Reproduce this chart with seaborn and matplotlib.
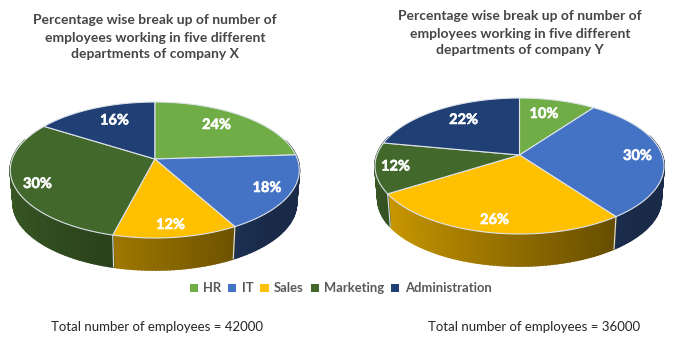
import numpy as np
import matplotlib
matplotlib.use("Agg")
import matplotlib.pyplot as plt
import matplotlib.patheffects as pe
from matplotlib.colors import to_rgb
from matplotlib.patches import Patch
import seaborn as sns

departments = ["HR", "IT", "Sales", "Marketing", "Administration"]
company_x = [24, 18, 12, 30, 16]
company_y = [10, 30, 26, 12, 22]
title_x = "Percentage wise break up of number of\nemployees working in five different\ndepartments of company X"
title_y = "Percentage wise break up of number of\nemployees working in five different\ndepartments of company Y"
total_x = "Total number of employees = 42000"
total_y = "Total number of employees = 36000"
palette = sns.color_palette(["#70AD47", "#4472C4", "#FFC000", "#43682B", "#203F75"])

# pixel positions of the label centres
labels_x = [(216.5, 125), (267, 188), (170.5, 225), (37.5, 184), (114.5, 120.5)]
labels_y = [(544, 114), (637.5, 156), (494.5, 220), (395.5, 166.5), (463.5, 120)]

sns.set_theme(style="white")
plt.rcParams["font.family"] = ["Lato", "DejaVu Sans"]

W, H, DPI = 677, 350, 100
fig = plt.figure(figsize=(W / DPI, H / DPI), dpi=DPI)
ax = fig.add_axes([0, 0, 1, 1])
ax.set_xlim(0, W)
ax.set_ylim(H, 0)
ax.axis("off")

R, A, K, DEPTH, SHRINK = 142.6, 66.2, 0.162, 33.5, 0.98
EDGE = "#DDE3EA"


def project(theta, cx, cy, scale=1.0, dy=0.0):
    u, v = np.sin(theta), -np.cos(theta)
    w = 1 - K * v
    return cx + scale * R * u / w, cy + dy + scale * A * v / w


def shade(color, theta):
    u = np.sin(theta)
    f = np.clip(0.38 + 0.42 * (0.66 - u) / 1.56, 0.38, 0.9)
    return tuple(c * f for c in to_rgb(color))


def draw_pie(values, cx, cy, labels):
    edges = np.cumsum([0] + list(values)) / 100 * 2 * np.pi
    # side wall, painted in narrow strips so that it carries a gradient
    for i, val in enumerate(values):
        t = np.linspace(edges[i], edges[i + 1], max(int(val * 3), 2))
        for a, b in zip(t[:-1], t[1:]):
            if np.cos((a + b) / 2) > 0.3:
                continue
            xt, yt = project(np.array([a, b]), cx, cy)
            xb, yb = project(np.array([b, a]), cx, cy, SHRINK, DEPTH)
            col = shade(palette[i], (a + b) / 2)
            ax.fill(np.r_[xt, xb], np.r_[yt, yb], facecolor=col, edgecolor=col,
                    lw=1.3, zorder=2)
    # slice boundaries on the wall
    for e in edges[:-1]:
        if np.cos(e) < 0.1:
            xt, yt = project(e, cx, cy)
            xb, yb = project(e, cx, cy, SHRINK, DEPTH)
            ax.plot([xt, xb], [yt, yb], color=EDGE, lw=0.8, zorder=3)
    # top face
    for i, val in enumerate(values):
        t = np.linspace(edges[i], edges[i + 1], max(int(val * 4), 2))
        xs, ys = project(t, cx, cy)
        ax.fill(np.r_[cx, xs], np.r_[cy, ys], facecolor=palette[i],
                edgecolor=EDGE, lw=0.8, joinstyle="round", zorder=4)
        ax.text(*labels[i], f"{val}%", color="white", fontsize=10.5, fontweight="bold",
                ha="center", va="center", zorder=5,
                path_effects=[pe.withStroke(linewidth=0.4, foreground="white")])


draw_pie(company_x, 154.8, 159, labels_x)
draw_pie(company_y, 519.5, 155, labels_y)

title_style = dict(color="#454545", fontsize=10, fontweight="bold", ha="center",
                   va="center", linespacing=1.5)
ax.text(155, 37.5, title_x, **title_style)
ax.text(520, 33.5, title_y, **title_style)

foot_style = dict(color="#262626", fontsize=9.5, va="center", ha="left")
ax.text(51, 327, total_x, **foot_style)
ax.text(428, 327, total_y, **foot_style)

handles = [Patch(facecolor=c, edgecolor="none", label=d) for c, d in zip(palette, departments)]
leg = ax.legend(handles=handles, ncol=5, frameon=False, loc="center",
                bbox_to_anchor=(340.5 / W, 1 - 288.5 / H), fontsize=9.4, columnspacing=0.55,
                handlelength=0.62, handleheight=0.62, handletextpad=0.4, borderpad=0, borderaxespad=0)
for t in leg.get_texts():
    t.set_color("#595959")
    t.set_fontweight("bold")

fig.savefig("out.png", dpi=DPI, facecolor="white")
